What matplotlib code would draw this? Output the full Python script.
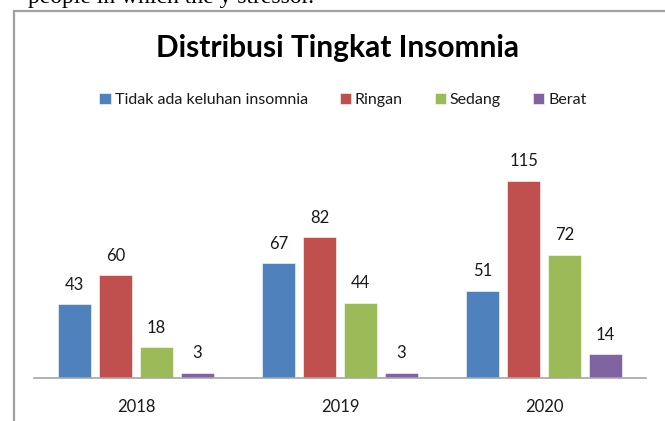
import matplotlib
matplotlib.use('Agg')
import matplotlib.pyplot as plt
from matplotlib.patches import Rectangle
import numpy as np

years = ['2018', '2019', '2020']
series = ['Tidak ada keluhan insomnia', 'Ringan', 'Sedang', 'Berat']
tidak_ada = [43, 67, 51]
ringan = [60, 82, 115]
sedang = [18, 44, 72]
berat = [3, 3, 14]
colors = ['#4F81BD', '#C0504D', '#9BBB59', '#8064A2']

plt.rcParams['font.family'] = ['Lato', 'DejaVu Sans']

W, H = 665, 421
fig = plt.figure(figsize=(W / 100, H / 100), dpi=100)

# chart frame (cut off at right and bottom)
fig.patches.append(Rectangle((14 / W, -0.1), 1.2, (H - 11) / H + 0.1,
                             transform=fig.transFigure, fill=False,
                             edgecolor='#a0a0a0', linewidth=1.6))
# cropped line of document text above chart
fig.text(28 / W, (H - 3.5) / H, 'people in which the y stressor.',
         family='Liberation Serif', fontsize=17, va='baseline', ha='left',
         color='black')

ax = fig.add_axes([34 / W, (H - 378) / H, 612 / W, 240 / H])
x = np.arange(len(years))
step, width = 0.2, 0.162
values = [tidak_ada, ringan, sedang, berat]
for i, (name, vals) in enumerate(zip(series, values)):
    pos = x + (i - 1.5) * step
    ax.bar(pos, vals, width, color=colors[i], label=name,
           edgecolor='white', linewidth=0.4)
    for p, v in zip(pos, vals):
        ax.annotate(str(v), (p, v), xytext=(0, 14), textcoords='offset points',
                    ha='center', va='center', fontsize=12, color='#1a1a1a')

ax.set_xlim(-0.5, 2.5)
ax.set_ylim(0, 140)
ax.set_xticks(x)
ax.set_xticklabels(years, fontsize=12, color='#1a1a1a')
ax.tick_params(axis='x', length=0, pad=15)
ax.set_yticks([])
for s in ['top', 'right', 'left']:
    ax.spines[s].set_visible(False)
ax.spines['bottom'].set_color('#a6a6a6')
ax.spines['bottom'].set_linewidth(1.2)

fig.text(337 / W, (H - 48) / H, 'Distribusi Tingkat Insomnia', ha='center',
         va='center', fontsize=21.5, fontweight='bold', color='black')

fig.legend(loc='center', bbox_to_anchor=(343 / W, (H - 100) / H), ncol=4,
           frameon=False, fontsize=11.5, handlelength=0.7, handleheight=0.7,
           handletextpad=0.25, columnspacing=2.0, labelcolor='#1a1a1a')

fig.savefig('out.png', dpi=100)
